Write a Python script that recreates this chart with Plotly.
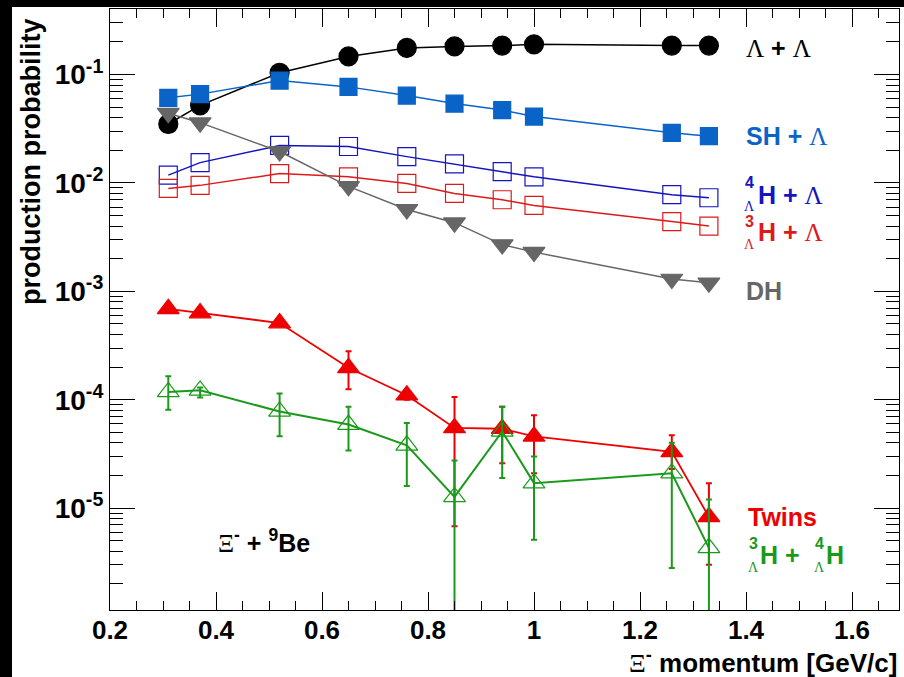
import plotly.graph_objects as go

# ---------------- data ----------------
momentum = [0.31, 0.37, 0.52, 0.65, 0.76, 0.85, 0.94, 1.00, 1.26, 1.33]

ll = [0.035, 0.052, 0.104, 0.147, 0.176, 0.182, 0.185, 0.19, 0.185, 0.185]          # Lambda + Lambda
sh = [0.061, 0.066, 0.088, 0.077, 0.064, 0.054, 0.047, 0.041, 0.029, 0.027]          # SH + Lambda
h4 = [0.0118, 0.0154, 0.0222, 0.0217, 0.0175, 0.0150, 0.0127, 0.0114, 0.0078, 0.0073]  # 4LH + Lambda
h3 = [0.0089, 0.0095, 0.0122, 0.0114, 0.0099, 0.0080, 0.0070, 0.0062, 0.0044, 0.0040]  # 3LH + Lambda
dh = [0.044, 0.036, 0.0195, 0.0093, 0.0057, 0.0043, 0.0027, 0.0023, 0.0013, 0.0012]    # DH

twins = [6.9e-4, 6.3e-4, 5.1e-4, 1.97e-4, 1.1e-4, 5.5e-5, 5.4e-5, 4.6e-5, 3.3e-5, 8.3e-6]
twins_hi = [6.9e-4, 6.3e-4, 5.1e-4, 2.8e-4, 1.2e-4, 1.06e-4, 8.6e-5, 7.2e-5, 4.7e-5, 1.7e-5]
twins_lo = [6.9e-4, 6.3e-4, 5.1e-4, 1.25e-4, 1.0e-4, 6.8e-6, 2.6e-5, 2.1e-5, 2.3e-5, 3.0e-6]

h34 = [1.18e-4, 1.22e-4, 7.8e-5, 5.9e-5, 3.8e-5, 1.27e-5, 5.1e-5, 1.7e-5, 2.1e-5, 4.3e-6]
h34_hi = [1.65e-4, 1.3e-4, 1.14e-4, 8.6e-5, 6.1e-5, 2.75e-5, 8.6e-5, 3.0e-5, 4.0e-5, 1.2e-5]
h34_lo = [8.1e-5, 1.05e-4, 4.6e-5, 3.4e-5, 1.6e-5, 1e-7, 1.9e-5, 5.1e-6, 2.8e-6, 1e-7]

x_ticks = [0.2, 0.4, 0.6, 0.8, 1.0, 1.2, 1.4, 1.6]
x_ticktext = ["0.2", "0.4", "0.6", "0.8", "1", "1.2", "1.4", "1.6"]
y_ticks = [1e-5, 1e-4, 1e-3, 1e-2, 1e-1]
y_ticktext = ["10<sup>-5</sup>", "10<sup>-4</sup>", "10<sup>-3</sup>", "10<sup>-2</sup>", "10<sup>-1</sup>"]

# ---------------- style ----------------
C_BLACK = "#000000"
C_SH = "#0a64c8"
C_H4 = "#1414c0"
C_H3 = "#dd1a1a"
C_DH = "#666666"
C_TW = "#ee0000"
C_GR = "#1a991a"
SANS = "Liberation Sans, Arial, sans-serif"
SERIF = "Liberation Serif, Times New Roman, serif"

# plot frame in pixels
PL, PR, PT, PB = 110, 899, 9, 610
W, H = 904, 677


def px(xp, yp):
    return (xp - PL) / (PR - PL), (PB - yp) / (PB - PT)


fig = go.Figure()


def series(y, color, symbol, size, lw=1.5, mlw=1.2, err=None):
    kw = {}
    if err is not None:
        hi, lo = err
        kw["error_y"] = dict(type="data", symmetric=False,
                             array=[h - v for h, v in zip(hi, y)],
                             arrayminus=[v - l for v, l in zip(y, lo)],
                             color=color, thickness=2, width=3)
    fig.add_trace(go.Scatter(
        x=momentum, y=y, mode="lines+markers",
        line=dict(color=color, width=lw),
        marker=dict(symbol=symbol, size=size, color=color,
                    line=dict(color=color, width=mlw)),
        **kw))


series(ll, C_BLACK, "circle", 19)
series(sh, C_SH, "square", 17)
series(h4, C_H4, "square-open", 18)
series(h3, C_H3, "square-open", 18)
series(dh, C_DH, "triangle-down", 19)
series(twins, C_TW, "triangle-up", 19, lw=1.8, err=(twins_hi, twins_lo))
series(h34, C_GR, "triangle-up-open", 19, lw=2, err=(h34_hi, h34_lo))

# minor ticks for log axis
y_minor = [k * 10.0 ** e for e in range(-6, 0) for k in range(2, 10)]

fig.update_layout(
    width=W, height=H,
    margin=dict(l=PL, r=W - PR, t=PT, b=H - PB),
    paper_bgcolor="white", plot_bgcolor="white",
    showlegend=False,
    font=dict(family=SANS, color="black"),
    xaxis=dict(range=[0.2, 0.2 + (PR - PL) / 530.0],
               tickvals=x_ticks, ticktext=x_ticktext,
               tickfont=dict(family=SANS, size=26, color="black", weight="bold"),
               ticks="inside", ticklen=18, tickwidth=1, tickcolor="black",
               ticklabelstandoff=-3,
               showline=True, linecolor="black", linewidth=1.2, mirror="ticks",
               showgrid=False, zeroline=False,
               minor=dict(dtick=0.05, tick0=0.2, ticks="inside", ticklen=9,
                          tickcolor="black", tickwidth=1, showgrid=False)),
    yaxis=dict(type="log", range=[-5.94, -0.395],
               tickvals=y_ticks, ticktext=y_ticktext,
               tickfont=dict(family=SANS, size=28, color="black", weight="bold"),
               ticks="inside", ticklen=25, tickwidth=1, tickcolor="black",
               showline=True, linecolor="black", linewidth=1.2, mirror="ticks",
               showgrid=False, zeroline=False,
               minor=dict(tickvals=y_minor, ticks="inside", ticklen=13,
                          tickcolor="black", tickwidth=1, showgrid=False)),
)

# black border strips of the original picture
x0, _ = px(0, 0)
x12, _ = px(12, 0)
xr, _ = px(W, 0)
_, ytop = px(0, 0)
_, y7 = px(0, 7)
_, ybot = px(0, H)
fig.add_shape(type="rect", xref="paper", yref="paper", x0=x0, x1=x12, y0=ybot, y1=ytop,
              fillcolor="black", line=dict(width=0), layer="above")
fig.add_shape(type="rect", xref="paper", yref="paper", x0=x0, x1=xr, y0=y7, y1=ytop,
              fillcolor="black", line=dict(width=0), layer="above")


def ann(text, xp, yp, size, color="black", xanchor="left", family=SANS, angle=0, bold=True):
    xa, ya = px(xp, yp)
    fig.add_annotation(text=text, x=xa, y=ya, xref="paper", yref="paper",
                       xanchor=xanchor, yanchor="middle", showarrow=False,
                       textangle=angle,
                       font=dict(family=family, size=size, color=color,
                                 weight="bold" if bold else "normal"))


def greek(ch, s=None):
    st = "font-family:Liberation Serif;font-weight:normal"
    if s:
        st += ";font-size:%dpx" % s
    return "<span style='%s'>%s</span>" % (st, ch)


def lam(s=None):
    return greek("Λ", s)


def xi(s=None):
    return greek("Ξ", s)


# axis titles
ann("production probability", 31, 162, 27, angle=-90, xanchor="center")
ann(xi() + "<sup>-</sup> momentum [GeV/c]", 899, 661, 26, xanchor="right")

# series labels
ann(lam(25) + " + " + lam(25), 744, 48, 25)
ann("SH + " + lam(25), 744, 136, 25, color=C_SH)

ann("4", 743, 183, 16, color=C_H4)
ann("Λ", 742, 206, 14, color=C_H4, family=SERIF, bold=False)
ann("H + " + lam(25), 756, 195, 25, color=C_H4)

ann("3", 743, 221, 16, color=C_H3)
ann("Λ", 742, 244, 14, color=C_H3, family=SERIF, bold=False)
ann("H + " + lam(25), 756, 232, 25, color=C_H3)

ann("DH", 744, 291, 25, color=C_DH)
ann("Twins", 746, 517, 25, color=C_TW)

ann("3", 747, 543, 16, color=C_GR)
ann("Λ", 746, 567, 14, color=C_GR, family=SERIF, bold=False)
ann("H +", 758, 555, 25, color=C_GR)
ann("4", 813, 543, 16, color=C_GR)
ann("Λ", 812, 567, 14, color=C_GR, family=SERIF, bold=False)
ann("H", 824, 555, 25, color=C_GR)

ann(xi(25) + "<sup>-</sup> + <sup>9</sup>Be", 216, 541, 25)

fig.write_html("out.html")
